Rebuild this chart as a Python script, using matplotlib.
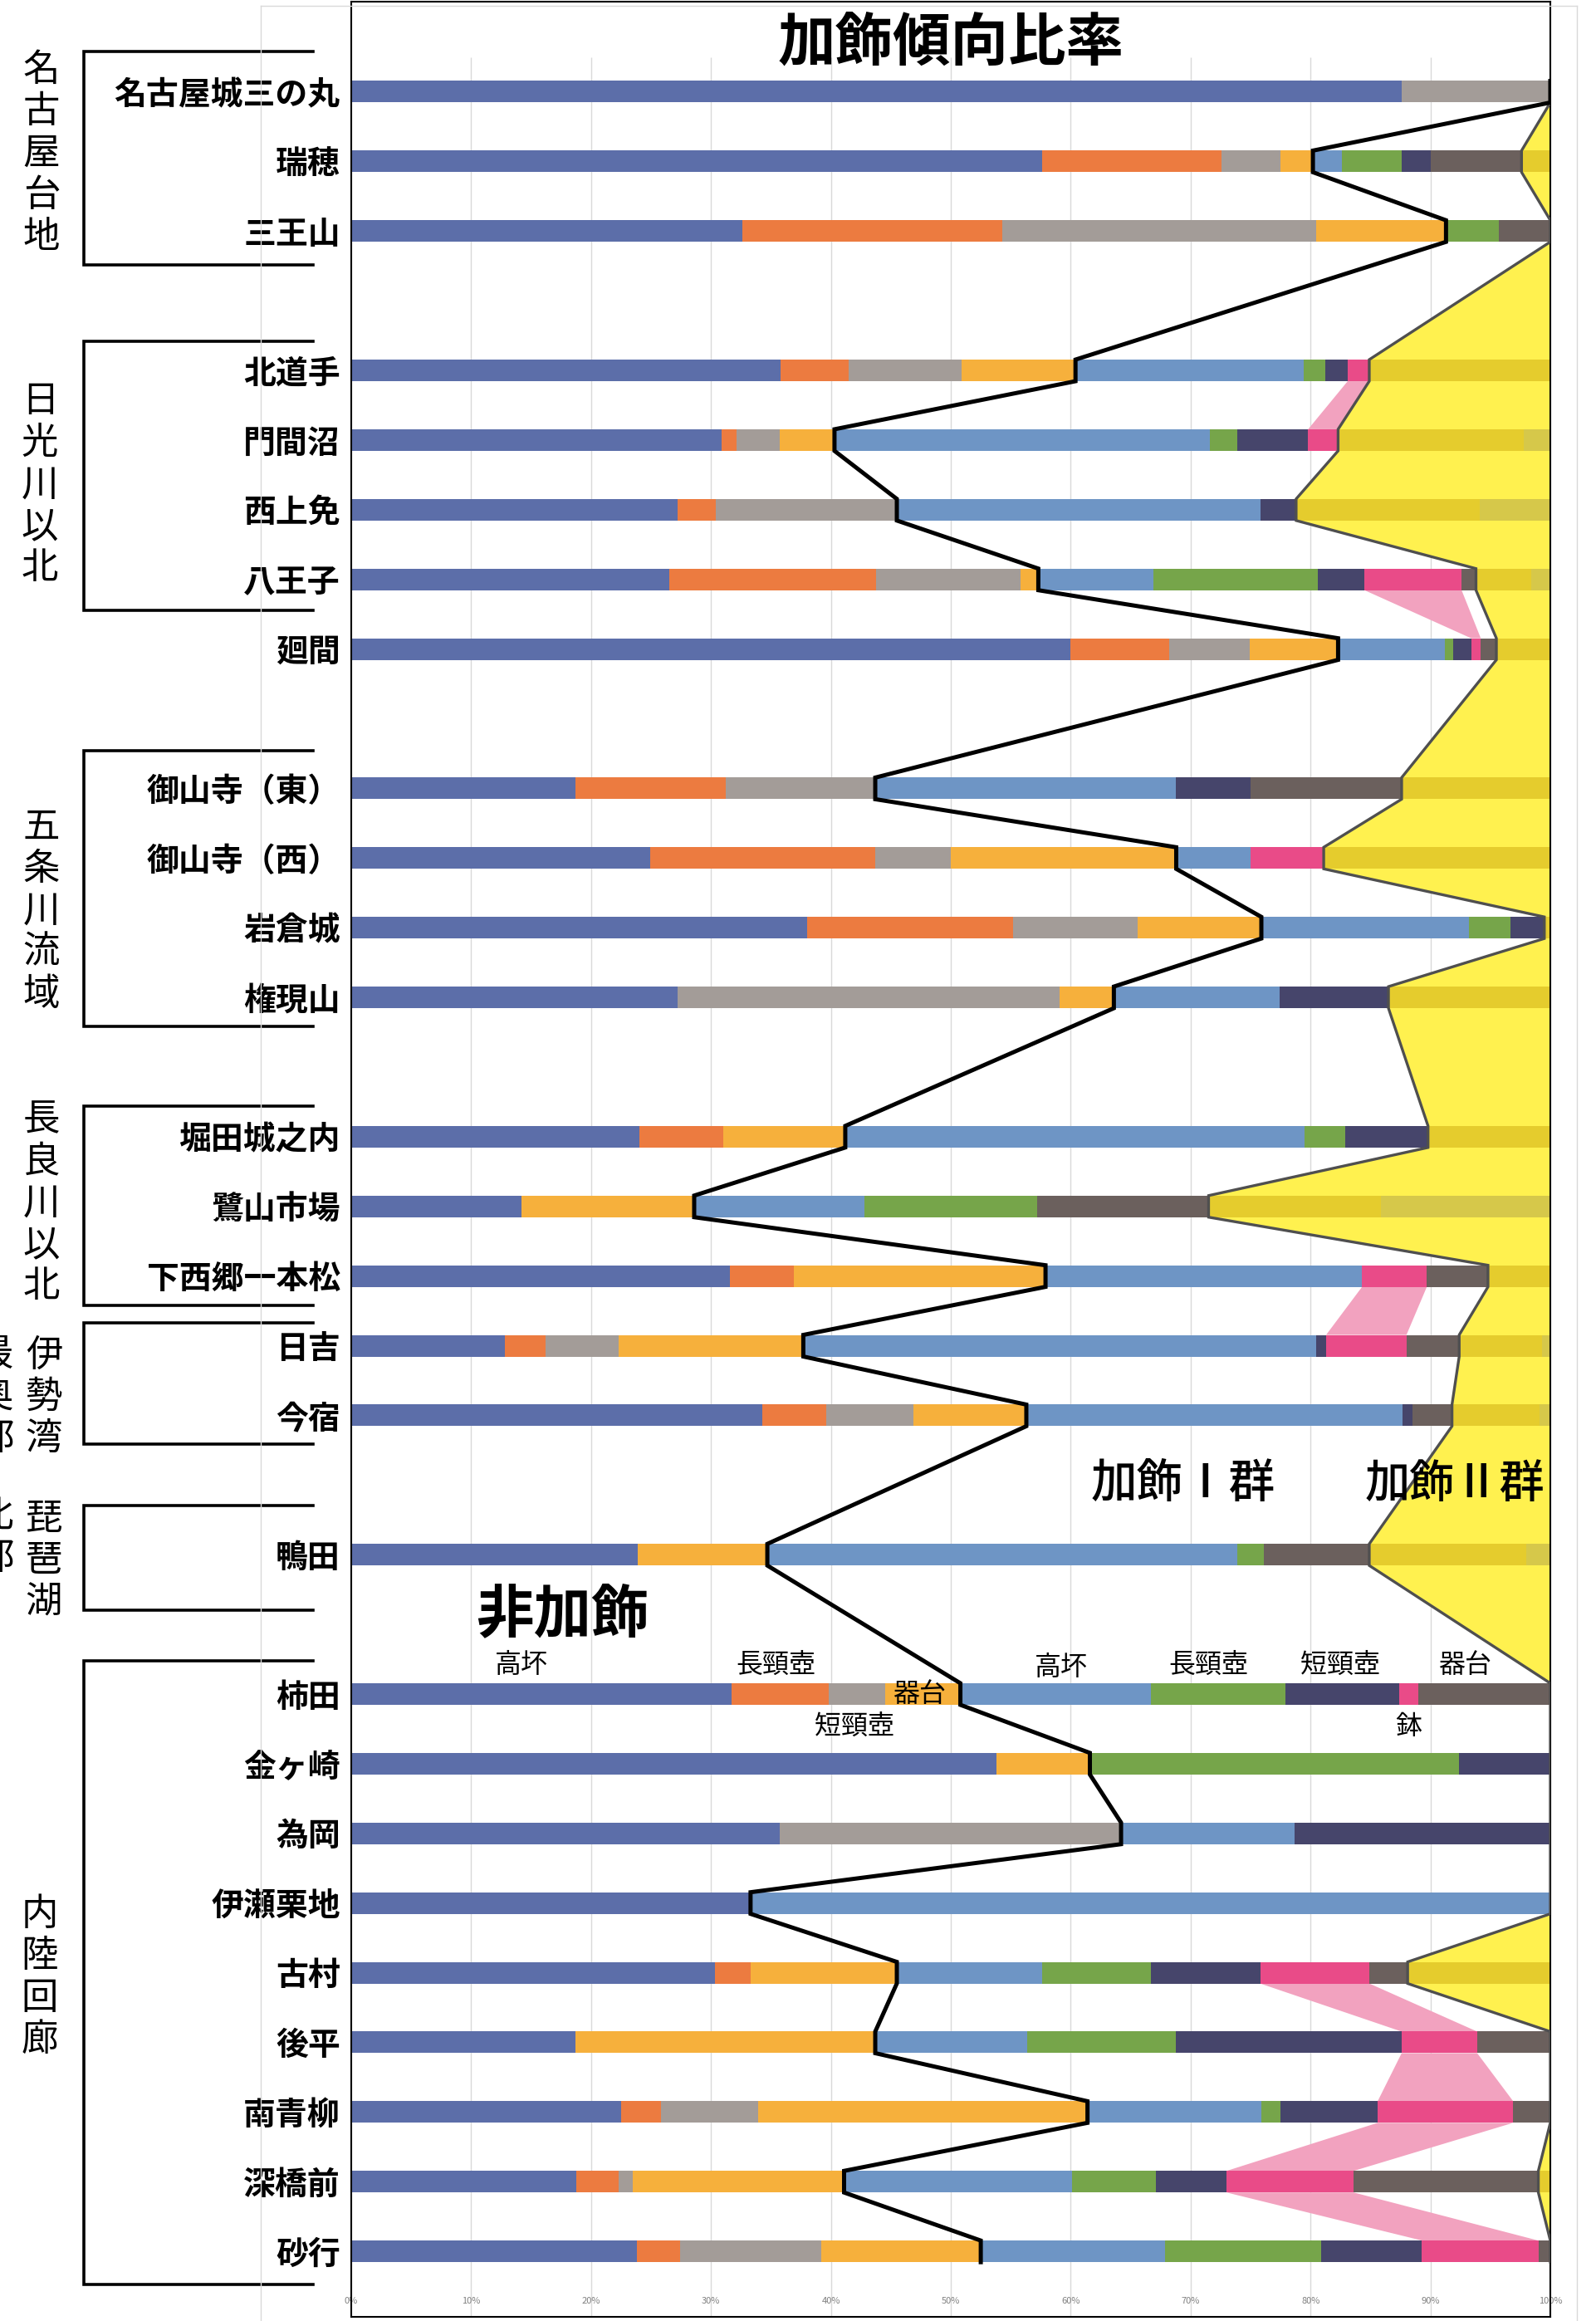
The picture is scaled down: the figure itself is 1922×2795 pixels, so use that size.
import matplotlib
matplotlib.use('Agg')
import matplotlib.pyplot as plt
import matplotlib.transforms as mtransforms
import numpy as np

plt.rcParams['font.family'] = ['Noto Sans CJK JP', 'DejaVu Sans']

# sites, top to bottom
sites = ['名古屋城三の丸', '瑞穂', '三王山', '北道手', '門間沼', '西上免', '八王子', '廻間',
         '御山寺（東）', '御山寺（西）', '岩倉城', '権現山',
         '堀田城之内', '鷺山市場', '下西郷一本松', '日吉', '今宿', '鴨田',
         '柿田', '金ヶ崎', '為岡', '伊瀬栗地', '古村', '後平', '南青柳', '深橋前', '砂行']
row_pos = [0, 1, 2, 4, 5, 6, 7, 8, 10, 11, 12, 13, 15, 16, 17, 18, 19, 21,
           23, 24, 25, 26, 27, 28, 29, 30, 31]

# 非加飾 (%)
non_takatsuki = [87.6, 57.6, 32.6, 35.8, 30.9, 27.2, 26.5, 60.0, 18.7, 24.9, 38.0, 27.2, 24.0, 14.2,
                 31.6, 12.8, 34.3, 23.9, 31.7, 53.8, 35.7, 33.3, 30.3, 18.7, 22.5, 18.8, 23.8]
non_chokei = [0, 15.0, 21.7, 5.7, 1.2, 3.2, 17.3, 8.2, 12.5, 18.8, 17.2, 0, 7.0, 0,
              5.3, 3.4, 5.3, 0, 8.1, 0, 0, 0, 3.0, 0, 3.3, 3.5, 3.6]
non_tankei = [12.4, 4.9, 26.2, 9.4, 3.6, 15.1, 12.0, 6.7, 12.5, 6.3, 10.4, 31.9, 0, 0,
              0, 6.1, 7.3, 0, 4.7, 0, 28.5, 0, 0, 0, 8.1, 1.2, 11.8]
non_kidai = [0, 2.7, 10.8, 9.5, 4.6, 0, 1.5, 7.4, 0, 18.8, 10.3, 4.5, 10.2, 14.4,
             21.0, 15.4, 9.4, 10.8, 6.3, 7.8, 0, 0, 12.2, 25.0, 27.5, 17.6, 13.3]
# 加飾I群 (%)
dec_takatsuki = [0, 2.4, 0, 19.0, 31.3, 30.3, 9.6, 8.9, 25.1, 6.2, 17.3, 13.8, 38.3, 14.2,
                 26.4, 42.8, 31.4, 39.2, 15.9, 0, 14.5, 66.7, 12.1, 12.7, 14.5, 19.0, 15.4]
dec_chokei = [0, 5.0, 4.4, 1.8, 2.3, 0, 13.7, 0.7, 0, 0, 3.5, 0, 3.4, 14.4,
              0, 0, 0, 2.2, 11.2, 30.8, 0, 0, 9.1, 12.4, 1.6, 7.0, 13.0]
dec_tankei = [0, 2.4, 0, 1.9, 5.9, 3.0, 3.9, 1.5, 6.2, 0, 2.8, 9.1, 6.9, 0,
              0, 0.8, 0.8, 0, 9.5, 7.6, 21.3, 0, 9.1, 18.8, 8.1, 5.9, 8.4]
dec_hachi = [0, 0, 0, 1.8, 2.5, 0, 8.1, 0.8, 0, 6.1, 0, 0, 0, 0,
             5.4, 6.7, 0, 0, 1.6, 0, 0, 0, 9.1, 6.3, 11.3, 10.6, 9.7]
dec_kidai = [0, 7.6, 4.3, 0, 0, 0, 1.2, 1.3, 12.6, 0, 0, 0, 0, 14.3,
             5.1, 4.4, 3.3, 8.8, 11.0, 0, 0, 0, 3.2, 6.1, 3.1, 15.4, 1.0]
# 加飾II群 (%)
dec2_a = [0, 2.4, 0, 15.1, 15.5, 15.3, 4.6, 4.5, 12.4, 18.9, 0.5, 13.5, 10.2, 14.4,
          5.2, 6.9, 7.3, 13.1, 0, 0, 0, 0, 11.9, 0, 0, 1.0, 0]
dec2_b = [0, 0, 0, 0, 2.2, 5.9, 1.6, 0, 0, 0, 0, 0, 0, 14.1,
          0, 0.7, 0.9, 2.0, 0, 0, 0, 0, 0, 0, 0, 0, 0]

groups = ['名古屋台地', '日光川以北', '五条川流域', '長良川以北', '伊勢湾最奥部', '琵琶湖北部', '内陸回廊']
xtick_vals = [0, 10, 20, 30, 40, 50, 60, 70, 80, 90, 100]
xtick_labels = ['0%', '10%', '20%', '30%', '40%', '50%', '60%', '70%', '80%', '90%', '100%']

series = [non_takatsuki, non_chokei, non_tankei, non_kidai,
          dec_takatsuki, dec_chokei, dec_tankei, dec_hachi, dec_kidai, dec2_a, dec2_b]
colors = ['#5C6EA9', '#EC7B40', '#A39C98', '#F6B03C',
          '#6E95C5', '#76A54A', '#46456B', '#E94B88', '#6B605D', '#E5CC2D', '#D6C84A']

W, H = 1922, 2795
fig = plt.figure(figsize=(W / 100, H / 100), dpi=100)
fig.patch.set_facecolor('white')
ax = fig.add_axes([423 / W, 1 - 2790 / H, (1867 - 423) / W, (2790 - 2) / H])
ax.set_xlim(0, 100)
ax.set_ylim(31.94, -1.293)
for sp in ax.spines.values():
    sp.set_color('black')
    sp.set_linewidth(1.5)

# excel chart area border
for xs, ys in [([314, 314], [7, H]), ([314, 1899], [7, 7]), ([1899, 1899], [7, H])]:
    fig.add_artist(plt.Line2D([x / W for x in xs], [1 - y / H for y in ys],
                              color='#D9D9D9', lw=1))

ax.vlines(xtick_vals[1:-1], -0.49, 31.94, color='#D9D9D9', lw=1, zorder=0)

bh = 0.31
rows = np.array(row_pos, dtype=float)
vals = np.array(series, dtype=float)
cum = np.cumsum(vals, axis=0)
lefts = cum - vals

# stacked bars
for k in range(len(series)):
    ax.barh(rows, vals[k], left=lefts[k], height=bh, color=colors[k],
            linewidth=0, zorder=2)

# boundary polylines
def boundary(b):
    xs, ys = [], []
    for r, v in zip(rows, b):
        xs += [v, v]
        ys += [r - bh / 2, r + bh / 2]
    return np.array(xs), np.array(ys)

non_end = cum[3]
dec1_end = cum[8]
bx, by = boundary(dec1_end)
ax.fill_betweenx(by, bx, 100, color='#FFF14F', linewidth=0, zorder=1)
ax.plot(bx, by, color='#4F4F4F', lw=2.4, zorder=3, solid_joinstyle='miter')
nx, ny = boundary(non_end)
ax.plot(nx, ny, color='black', lw=3.6, zorder=4, solid_joinstyle='miter')

# 鉢 bands between neighbouring bars
hachi = vals[7]
for i in range(len(rows) - 1):
    if hachi[i] > 0 and hachi[i + 1] > 0 and rows[i + 1] - rows[i] == 1:
        y0 = rows[i] + bh / 2
        y1 = rows[i + 1] - bh / 2
        ax.fill([lefts[7][i], cum[7][i], cum[7][i + 1], lefts[7][i + 1]],
                [y0, y0, y1, y1], color='#F2A2BF', linewidth=0, zorder=1.5)

# axes ticks
ax.set_xticks(xtick_vals, labels=xtick_labels)
ax.tick_params(axis='x', length=0, pad=-17, labelsize=8, labelcolor='#808080')
ax.set_yticks(rows, labels=sites)
ax.tick_params(axis='y', length=0, pad=9.5, labelsize=28)
for lab in ax.get_yticklabels():
    lab.set_fontweight('bold')

ax.text(50, -0.69, '加飾傾向比率', ha='center', va='center', fontsize=50,
        fontweight='bold', zorder=6)

# category labels around 柿田
ki = sites.index('柿田')
seg_names = ['高坏', '長頸壺', '短頸壺', '器台', '高坏', '長頸壺', '短頸壺', '鉢', '器台']
seg_x = [14.2, 35.4, 42.0, 47.4, 59.2, 71.5, 82.5, 88.2, 92.9]
seg_dy = [-0.42, -0.42, 0.46, 0.0, -0.38, -0.42, -0.42, 0.46, -0.42]
for nm, cx, dy in zip(seg_names, seg_x, seg_dy):
    ax.text(cx, rows[ki] + dy, nm, ha='center', va='center', fontsize=23, zorder=6)
ax.text(17.6, 21.87, '非加飾', ha='center', va='center', fontsize=50, fontweight='bold', zorder=6)
ax.text(69.4, 19.99, '加飾Ⅰ群', ha='center', va='center', fontsize=40, fontweight='medium', zorder=6)
ax.text(92.0, 19.99, '加飾Ⅱ群', ha='center', va='center', fontsize=39, fontweight='medium', zorder=6)

# group brackets and vertical labels
trans = mtransforms.blended_transform_factory(fig.transFigure, ax.transData)
br_top = [-0.58, 3.58, 9.46, 14.56, 17.67, 20.30, 22.52]
br_bot = [2.49, 7.44, 13.42, 17.42, 19.41, 21.80, 31.48]
bx0, bx1 = 101 / W, 377 / W
for t, b in zip(br_top, br_bot):
    ax.plot([bx1, bx0, bx0, bx1], [t, t, b, b], color='black', lw=2.6,
            transform=trans, clip_on=False, solid_joinstyle='miter')

label_cols = [('名古屋台地', 50, 0.88), ('日光川以北', 48, 5.64), ('五条川流域', 50, 11.75),
              ('長良川以北', 50, 15.95), ('伊勢湾', 53, 18.73), ('最奥部', -6, 18.73),
              ('琵琶湖', 53, 21.08), ('北部', -6, 20.75), ('内陸回廊', 48, 27.06)]
for txt, xp, yc in label_cols:
    ax.text(xp / W, yc, '\n'.join(txt), transform=trans, ha='center', va='center',
            fontsize=32, linespacing=1.12, clip_on=False)

fig.savefig('out.png', dpi=100, facecolor='white')
